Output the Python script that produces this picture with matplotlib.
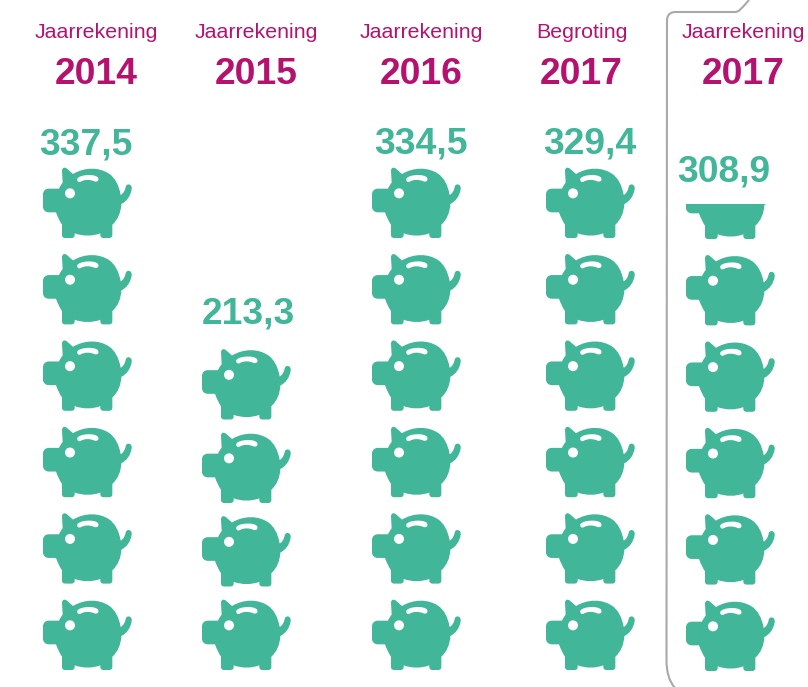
import matplotlib
matplotlib.use("Agg")
import matplotlib.pyplot as plt
from matplotlib.patches import Circle, PathPatch, Rectangle
from matplotlib.path import Path

plt.rcParams["font.family"] = ["Liberation Sans", "DejaVu Sans"]

# data
headers = ["Jaarrekening", "Jaarrekening", "Jaarrekening", "Begroting", "Jaarrekening"]
years = ["2014", "2015", "2016", "2017", "2017"]
value_labels = ["337,5", "213,3", "334,5", "329,4", "308,9"]
pig_counts = [6, 4, 6, 6, 5.49]

# layout, in pixels of the picture
header_x = [96.5, 256, 421.5, 581.5, 743]
label_x = [86, 248, 421, 590, 724]
label_y = [145, 314, 144, 144, 172]
pig_x = [43, 202, 372, 546, 686]
pig_bottom = [670, 670, 670, 670, 671]
pig_step = [86.4, 83.5, 86.4, 86.4, 86.4]

GREEN = "#41B698"
MAGENTA = "#B5126F"
GREY = "#A9A9A9"
PIG_H = 71


def pig_path(left, bottom):
    # outline traced from the icon, 3x zoomed units, y going down
    M, L, C = Path.MOVETO, Path.LINETO, Path.CURVE4
    segs = [
        (M, [(58, 85)]),
        (L, [(88, 85)]),
        (C, [(91, 78), (95, 72), (99, 67)]),
        (L, [(97, 32)]),
        (C, [(97, 21), (106, 19), (113, 26)]),
        (L, [(130, 41)]),
        (C, [(165, 20), (208, 20), (238, 40)]),
        (C, [(256, 52), (268, 75), (273, 104)]),
        (C, [(281, 100), (286, 90), (288, 80)]),
        (C, [(290, 68), (308, 70), (306, 86)]),
        (C, [(303, 108), (290, 124), (275, 131)]),
        (C, [(274, 155), (265, 178), (248, 193)]),
        (L, [(248, 224)]),
        (C, [(248, 230), (244, 233), (238, 233)]),
        (L, [(222, 233)]),
        (C, [(216, 233), (212, 230), (212, 224)]),
        (L, [(212, 219)]),
        (C, [(188, 228), (160, 228), (135, 219)]),
        (L, [(135, 224)]),
        (C, [(135, 230), (131, 233), (125, 233)]),
        (L, [(107, 233)]),
        (C, [(101, 233), (97, 230), (97, 224)]),
        (L, [(97, 193)]),
        (C, [(90, 183), (84, 170), (79, 156)]),
        (L, [(58, 156)]),
        (C, [(47, 156), (40, 149), (40, 139)]),
        (L, [(40, 102)]),
        (C, [(40, 92), (47, 85), (58, 85)]),
    ]
    verts, codes = [], []
    for code, pts in segs:
        for p in pts:
            verts.append((left + (p[0] - 40) / 3, bottom - (233 - p[1]) / 3))
            codes.append(code)
    return Path(verts, codes)


def slot_path(left, bottom):
    pts = [(143, 55), (150, 42), (198, 40), (205, 52), (210, 61), (202, 66), (194, 63),
           (180, 57), (165, 57), (153, 64), (147, 67), (141, 63), (143, 55)]
    codes = [Path.MOVETO] + [Path.CURVE4] * 12
    return Path([(left + (x - 40) / 3, bottom - (233 - y) / 3) for x, y in pts], codes)


def draw_pig(ax, left, bottom, frac):
    pieces = [
        PathPatch(pig_path(left, bottom), fc=GREEN, ec="none"),
        Circle((left + (121 - 40) / 3, bottom - (233 - 99) / 3), 5, fc="white", ec="none"),
        PathPatch(slot_path(left, bottom), fc="white", ec="none"),
    ]
    clip = Rectangle((left - 5, bottom - PIG_H * frac), 100, PIG_H * frac + 1, transform=ax.transData)
    for p in pieces:
        ax.add_patch(p)
        p.set_clip_path(clip)


fig = plt.figure(figsize=(8.08, 6.87), dpi=100)
ax = fig.add_axes([0, 0, 1, 1])
ax.set_xlim(0, 808)
ax.set_ylim(687, 0)
ax.axis("off")

for i in range(len(years)):
    ax.text(header_x[i], 33, headers[i], color=MAGENTA, fontsize=15.4, ha="center", va="center")
    ax.text(header_x[i], 74, years[i], color=MAGENTA, fontsize=26.8,
            fontweight="bold", ha="center", va="center")
    ax.text(label_x[i], label_y[i], value_labels[i], color=GREEN, fontsize=26.8,
            fontweight="bold", ha="center", va="center")

    n = pig_counts[i]
    row = 0
    while n > 0:
        draw_pig(ax, pig_x[i], pig_bottom[i] - row * pig_step[i], min(n, 1))
        n -= 1
        row += 1

# frame round the last column
M, L, C = Path.MOVETO, Path.LINETO, Path.CURVE4
frame = Path(
    [(749, 0), (741, 9), (739, 12), (735, 12), (676, 12), (670, 12), (667, 15), (667, 21),
     (666.5, 660), (666.5, 672), (669, 681), (675, 688)],
    [M, C, C, C, L, C, C, C, L, C, C, C],
)
ax.add_patch(PathPatch(frame, fc="none", ec=GREY, lw=1.5))

fig.savefig("out.png", dpi=100)
